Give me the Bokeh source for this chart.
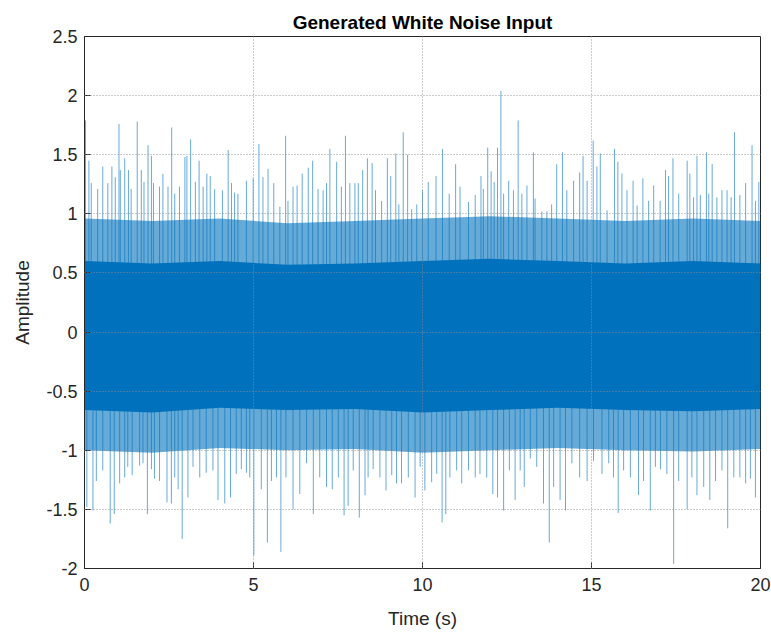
from bokeh.plotting import figure
from bokeh.models import Range1d, FixedTicker, ColumnDataSource
from bokeh.embed import file_html
from bokeh.resources import INLINE

# ---- data ----
up_t = [0.03, 0.13, 0.20, 0.39, 0.54, 0.69, 0.81, 0.91, 1.02, 1.06, 1.19, 1.30, 1.38, 1.56, 1.68, 1.76,
        1.88, 1.98, 2.04, 2.22, 2.32, 2.47, 2.58, 2.67, 2.81, 2.97, 3.03, 3.14, 3.28, 3.39, 3.51, 3.62,
        3.72, 3.85, 4.08, 4.25, 4.35, 4.44, 4.54, 4.79, 4.99, 5.16, 5.28, 5.43, 5.60, 5.78, 5.95, 6.02,
        6.17, 6.29, 6.44, 6.62, 6.75, 6.91, 7.06, 7.16, 7.26, 7.46, 7.60, 7.72, 7.85, 8.00, 8.10, 8.23,
        8.37, 8.51, 8.61, 8.79, 8.96, 9.06, 9.21, 9.30, 9.43, 9.56, 9.68, 9.83,
        10.00, 10.17, 10.40, 10.59, 10.79, 10.98, 11.11, 11.36, 11.56, 11.73, 11.80, 11.93, 12.03, 12.12,
        12.22, 12.32, 12.40, 12.55, 12.69, 12.83, 12.94, 13.09, 13.28, 13.33, 13.53, 13.68, 13.82, 13.97,
        14.14, 14.27, 14.47, 14.65, 14.75, 14.87, 15.05, 15.16, 15.26, 15.46, 15.68, 15.78, 15.90, 16.05,
        16.23, 16.35, 16.52, 16.69, 16.84, 17.03, 17.19, 17.28, 17.41, 17.58, 17.83, 17.91, 18.02, 18.12,
        18.22, 18.40, 18.47, 18.57, 18.71, 18.86, 19.01, 19.13, 19.23, 19.39, 19.56, 19.75, 19.85, 19.95]
up_v = [1.79, 1.45, 1.26, 1.21, 1.40, 1.26, 1.40, 1.31, 1.76, 1.37, 1.47, 1.37, 1.21, 1.78, 1.37, 1.27,
        1.58, 1.49, 1.26, 1.23, 1.34, 1.23, 1.73, 1.17, 1.23, 1.48, 1.49, 1.63, 1.27, 1.45, 1.23, 1.34,
        1.32, 1.21, 1.20, 1.54, 1.26, 1.18, 1.17, 1.28, 1.30, 1.59, 1.31, 1.38, 1.26, 1.06, 1.66, 1.11,
        1.23, 1.24, 1.34, 1.39, 1.45, 1.21, 1.20, 1.26, 1.55, 1.44, 1.23, 1.66, 1.26, 1.26, 1.26, 1.37,
        1.47, 1.43, 1.20, 1.11, 1.47, 1.32, 1.51, 1.08, 1.69, 1.50, 1.04, 1.08,
        1.20, 1.27, 1.32, 1.55, 1.17, 1.42, 1.23, 1.10, 1.16, 1.32, 1.21, 1.56, 1.36, 1.27,
        1.56, 2.04, 1.17, 1.28, 1.20, 1.79, 1.17, 1.24, 1.52, 1.13, 1.02, 1.02, 1.08, 1.42,
        1.52, 1.20, 1.28, 1.35, 1.49, 1.28, 1.62, 1.40, 1.51, 1.03, 1.55, 1.44, 1.34, 1.20,
        1.28, 1.07, 1.30, 1.11, 1.24, 1.11, 1.37, 1.32, 1.47, 1.17, 1.45, 1.34, 1.14, 1.49,
        1.16, 1.52, 1.17, 1.42, 1.14, 1.20, 1.20, 1.14, 1.69, 1.16, 1.26, 1.58, 1.11, 1.27]

dn_t = [0.07, 0.25, 0.35, 0.54, 0.76, 0.88, 1.04, 1.19, 1.28, 1.41, 1.63, 1.73, 1.86, 1.98, 2.07, 2.22,
        2.44, 2.57, 2.67, 2.77, 2.89, 3.06, 3.21, 3.41, 3.60, 3.80, 3.95, 4.15, 4.32, 4.49, 4.64, 4.79,
        4.89, 5.01, 5.23, 5.41, 5.53, 5.68, 5.81, 5.96, 6.17, 6.37, 6.57, 6.77, 6.96, 7.16, 7.33, 7.51,
        7.68, 7.80, 7.95, 8.13, 8.30, 8.39, 8.54, 8.74, 8.92, 9.09, 9.23, 9.38, 9.58, 9.78, 9.93,
        10.07, 10.27, 10.42, 10.58, 10.69, 10.81, 11.01, 11.16, 11.36, 11.56, 11.70, 11.90, 12.08, 12.22,
        12.40, 12.57, 12.74, 12.89, 13.01, 13.19, 13.38, 13.58, 13.75, 13.88, 14.07, 14.23, 14.42, 14.65,
        14.87, 15.06, 15.31, 15.51, 15.65, 15.79, 15.95, 16.15, 16.39, 16.54, 16.74, 16.89, 17.04, 17.23,
        17.43, 17.58, 17.83, 17.97, 18.12, 18.32, 18.50, 18.67, 18.86, 19.03, 19.21, 19.39, 19.56, 19.70,
        19.85]
dn_v = [-1.48, -1.51, -1.26, -1.17, -1.62, -1.54, -1.28, -1.23, -1.14, -1.21, -1.13, -1.11, -1.54, -1.16,
        -1.24, -1.26, -1.44, -1.45, -1.23, -1.33, -1.75, -1.40, -1.14, -1.23, -1.19, -1.17, -1.42, -1.45,
        -1.40, -1.20, -1.16, -1.19, -1.23, -1.89, -1.33, -1.78, -1.26, -1.23, -1.86, -1.23, -1.50, -1.37,
        -1.11, -1.54, -1.23, -1.31, -1.33, -1.23, -1.55, -1.47, -1.17, -1.57, -1.38, -1.23, -1.16, -1.23,
        -1.34, -1.21, -1.28, -1.28, -1.23, -1.40, -1.14,
        -1.34, -1.27, -1.20, -1.61, -1.54, -1.23, -1.17, -1.28, -1.17, -1.23, -1.20, -1.23, -1.37, -1.40,
        -1.51, -1.17, -1.42, -1.17, -1.31, -1.07, -1.14, -1.45, -1.78, -1.31, -1.42, -1.51, -1.11, -1.23,
        -1.26, -1.09, -1.20, -1.11, -1.23, -1.53, -1.17, -1.23, -1.38, -1.26, -1.51, -1.14, -1.16, -1.20,
        -1.96, -1.26, -1.50, -1.23, -1.38, -1.31, -1.42, -1.26, -1.17, -1.66, -1.23, -1.23, -1.28, -1.24,
        -1.40]

# envelope of the dense core of the noise
band_t = [0, 2, 4, 6, 8, 10, 12, 14, 16, 18, 20]
core_hi = [0.60, 0.58, 0.60, 0.57, 0.58, 0.60, 0.62, 0.60, 0.58, 0.60, 0.58]
core_lo = [-0.66, -0.68, -0.64, -0.66, -0.65, -0.68, -0.66, -0.64, -0.66, -0.67, -0.65]
haze_hi = [0.96, 0.94, 0.96, 0.92, 0.94, 0.96, 0.98, 0.96, 0.94, 0.96, 0.94]
haze_lo = [-1.00, -1.02, -0.98, -1.00, -0.99, -1.02, -1.00, -0.98, -1.00, -1.01, -0.99]

x_ticks = [0, 5, 10, 15, 20]
y_ticks = [-2, -1.5, -1, -0.5, 0, 0.5, 1, 1.5, 2, 2.5]

BLUE = "#0072BD"
FONT = "Liberation Sans"

p = figure(width=771, height=634, output_backend="svg", toolbar_location=None,
           x_range=Range1d(0, 20), y_range=Range1d(-2, 2.5),
           min_border_left=84, min_border_right=11, min_border_top=36, min_border_bottom=66,
           title="Generated White Noise Input")
p.title.align = "center"
p.title.text_font = FONT
p.title.text_font_size = "19px"
p.title.text_font_style = "bold"
p.title.text_color = "#000000"
p.title.standoff = 7

band = ColumnDataSource(dict(t=band_t, chi=core_hi, clo=core_lo, hhi=haze_hi, hlo=haze_lo))
p.varea(x="t", y1="hlo", y2="hhi", source=band, fill_color=BLUE, fill_alpha=0.6)
p.varea(x="t", y1="clo", y2="chi", source=band, fill_color=BLUE, fill_alpha=1.0)

ups = ColumnDataSource(dict(t=up_t, v=up_v))
dns = ColumnDataSource(dict(t=dn_t, v=dn_v))
p.segment(x0="t", y0=0, x1="t", y1="v", source=ups, line_color=BLUE, line_width=1, line_alpha=0.6)
p.segment(x0="t", y0=0, x1="t", y1="v", source=dns, line_color=BLUE, line_width=1, line_alpha=0.6)

# grid
for g in (p.xgrid[0], p.ygrid[0]):
    g.grid_line_color = "#8c8c8c"
    g.grid_line_dash = "1 2"
    g.grid_line_alpha = 0.9
    g.level = "overlay"
p.xgrid[0].ticker = FixedTicker(ticks=x_ticks)
p.ygrid[0].ticker = FixedTicker(ticks=y_ticks)

p.outline_line_color = "#262626"
p.outline_line_width = 1
p.outline_line_alpha = 1.0
p.background_fill_color = "white"
p.border_fill_color = "white"

def style_axis(ax, ticks):
    ax.ticker = FixedTicker(ticks=ticks)
    ax.axis_line_color = "#262626"
    ax.major_tick_line_color = "#262626"
    ax.major_tick_in = 6
    ax.major_tick_out = 0
    ax.minor_tick_line_color = None
    ax.major_label_text_font = FONT
    ax.major_label_text_font_size = "18px"
    ax.major_label_text_color = "#262626"
    ax.axis_label_text_font = FONT
    ax.axis_label_text_font_size = "19px"
    ax.axis_label_text_font_style = "normal"
    ax.axis_label_text_color = "#262626"

xa = p.xaxis[0]
ya = p.yaxis[0]
style_axis(xa, x_ticks)
style_axis(ya, y_ticks)
xa.axis_label = "Time (s)"
ya.axis_label = "Amplitude"
xa.major_label_standoff = 9
ya.major_label_standoff = 7
xa.axis_label_standoff = 14
ya.axis_label_standoff = 10
ya.major_label_overrides = {v: (str(v) if v != int(v) else str(int(v))) for v in y_ticks}

open("out.html", "w").write(file_html(p, INLINE))
